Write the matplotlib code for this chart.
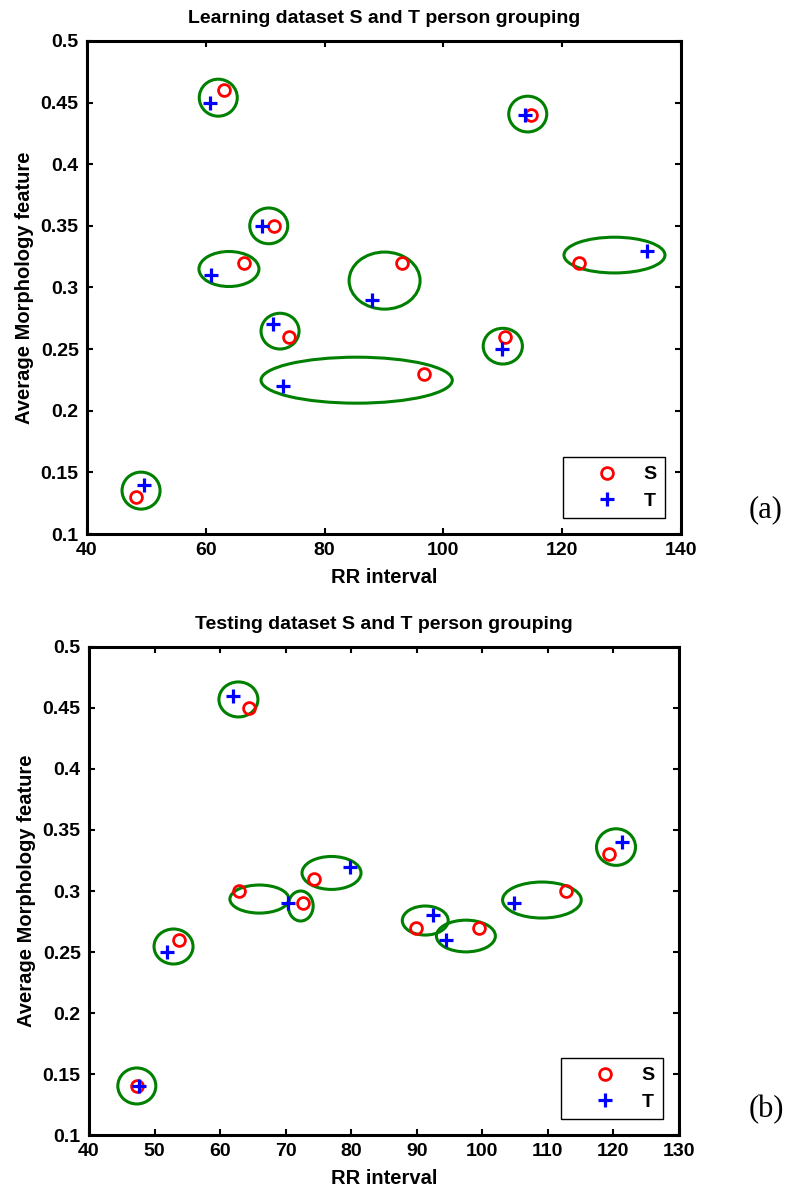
import matplotlib
matplotlib.use("Agg")
import matplotlib.pyplot as plt
from matplotlib.patches import Ellipse

# ---- Learning dataset ----
learn_s_rr = [63.0, 71.5, 66.5, 74.0, 48.3, 93.0, 114.7, 122.8, 96.7, 110.4]
learn_s_morph = [0.46, 0.35, 0.32, 0.26, 0.13, 0.32, 0.44, 0.32, 0.23, 0.26]
learn_t_rr = [60.7, 69.4, 60.9, 88.0, 71.3, 73.0, 49.6, 113.8, 134.3, 109.9]
learn_t_morph = [0.45, 0.35, 0.31, 0.29, 0.27, 0.22, 0.14, 0.44, 0.33, 0.25]

# grouping ellipses: centre, width, height (data units)
learn_grp_cx = [62.1, 70.6, 63.9, 90.1, 114.2, 128.8, 72.5, 85.4, 110.0, 49.1]
learn_grp_cy = [0.454, 0.350, 0.315, 0.3056, 0.4407, 0.3263, 0.2646, 0.2248, 0.2524, 0.1352]
learn_grp_w = [6.4, 6.4, 10.1, 11.95, 6.4, 17.0, 6.4, 32.2, 6.6, 6.4]
learn_grp_h = [0.030, 0.029, 0.0284, 0.0463, 0.029, 0.029, 0.029, 0.0373, 0.029, 0.030]

# ---- Testing dataset ----
test_s_rr = [64.4, 62.9, 74.4, 72.7, 53.8, 47.4, 89.9, 99.5, 112.7, 119.4]
test_s_morph = [0.45, 0.30, 0.31, 0.29, 0.26, 0.14, 0.27, 0.27, 0.30, 0.33]
test_t_rr = [62.0, 79.8, 70.4, 51.9, 47.6, 92.5, 94.5, 104.8, 121.3]
test_t_morph = [0.46, 0.32, 0.29, 0.25, 0.14, 0.28, 0.26, 0.29, 0.34]

test_grp_cx = [62.8, 77.0, 66.0, 72.3, 52.9, 47.3, 91.3, 97.5, 109.1, 120.4]
test_grp_cy = [0.457, 0.3148, 0.2934, 0.2877, 0.2545, 0.1402, 0.2758, 0.2631, 0.2926, 0.336]
test_grp_w = [5.95, 9.0, 9.0, 3.8, 5.95, 5.8, 7.0, 9.0, 12.0, 5.95]
test_grp_h = [0.0287, 0.027, 0.023, 0.0246, 0.0287, 0.0295, 0.0238, 0.026, 0.0295, 0.030]

learn_xticks = [40, 60, 80, 100, 120, 140]
test_xticks = [40, 50, 60, 70, 80, 90, 100, 110, 120, 130]
yticks = [0.1, 0.15, 0.2, 0.25, 0.3, 0.35, 0.4, 0.45, 0.5]
ytick_labels = ["0.1", "0.15", "0.2", "0.25", "0.3", "0.35", "0.4", "0.45", "0.5"]

plt.rcParams["font.family"] = ["Liberation Sans", "DejaVu Sans"]
plt.rcParams["font.weight"] = "bold"

FS = 14
GREEN = (0.0, 0.5, 0.0)

fig = plt.figure(figsize=(7.88, 11.88), dpi=100)
ax1 = fig.add_axes([0.1104, 0.5505, 0.7538, 0.415])
ax2 = fig.add_axes([0.1129, 0.0446, 0.7487, 0.4108])


def draw_panel(ax, s_x, s_y, t_x, t_y, gcx, gcy, gw, gh, xticks, title):
    for cx, cy, w, h in zip(gcx, gcy, gw, gh):
        ax.add_patch(Ellipse((cx, cy), w, h, fill=False, edgecolor=GREEN,
                             linewidth=2.2, zorder=2))
    ax.plot(s_x, s_y, linestyle="none", marker="o", markersize=8.5,
            markerfacecolor="none", markeredgecolor="red", markeredgewidth=2,
            label="S", zorder=3)
    ax.plot(t_x, t_y, linestyle="none", marker="+", markersize=10,
            markeredgecolor="blue", markeredgewidth=2.3, label="T", zorder=4)
    ax.set_xlim(xticks[0], xticks[-1])
    ax.set_ylim(0.1, 0.5)
    ax.set_xticks(xticks)
    ax.set_xticklabels([str(v) for v in xticks])
    ax.set_yticks(yticks)
    ax.set_yticklabels(ytick_labels)
    ax.tick_params(direction="in", length=4, width=1.5, top=True, right=True,
                   labelsize=FS, pad=6)
    for lab in ax.get_xticklabels() + ax.get_yticklabels():
        lab.set_fontweight("bold")
    for sp in ax.spines.values():
        sp.set_linewidth(2.2)
    ax.set_title(title, fontsize=14, fontweight="bold", pad=13)
    ax.set_xlabel("RR interval", fontsize=14.5, fontweight="bold", labelpad=6)
    ax.set_ylabel("Average Morphology feature", fontsize=14.5,
                  fontweight="bold", labelpad=5)
    leg = ax.legend(loc="lower right", fontsize=FS, handlelength=3.6,
                    handletextpad=0.1, borderpad=0.45, labelspacing=0.45,
                    fancybox=False, framealpha=1, edgecolor="black",
                    borderaxespad=0.8)
    leg.get_frame().set_linewidth(1.0)
    for txt in leg.get_texts():
        txt.set_fontweight("bold")


draw_panel(ax1, learn_s_rr, learn_s_morph, learn_t_rr, learn_t_morph,
           learn_grp_cx, learn_grp_cy, learn_grp_w, learn_grp_h,
           learn_xticks, "Learning dataset S and T person grouping")
draw_panel(ax2, test_s_rr, test_s_morph, test_t_rr, test_t_morph,
           test_grp_cx, test_grp_cy, test_grp_w, test_grp_h,
           test_xticks, "Testing dataset S and T person grouping")

# panel tags
serif = ["Liberation Serif", "DejaVu Serif"]
fig.text(0.972, 0.571, "(a)", fontsize=22, family=serif, fontweight="normal",
         ha="center", va="center")
fig.text(0.972, 0.066, "(b)", fontsize=22, family=serif, fontweight="normal",
         ha="center", va="center")

fig.savefig("out.png", dpi=100)
